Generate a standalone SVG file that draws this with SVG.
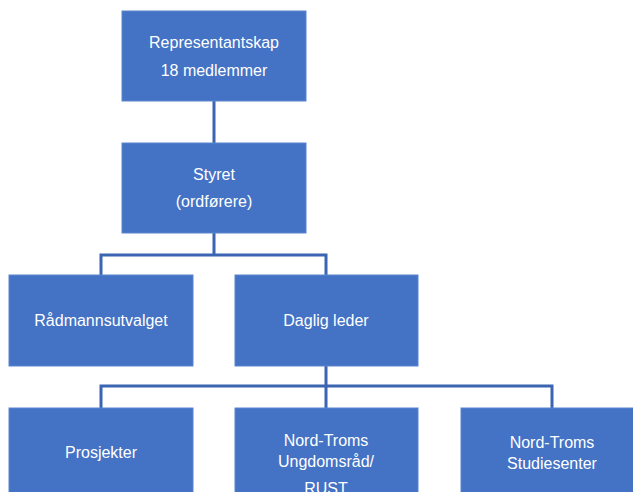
<svg xmlns="http://www.w3.org/2000/svg" width="633" height="492" viewBox="0 0 633 492">
<style>
.box{fill:#4472C4;stroke:#5B85CF;stroke-width:1}
.t{font-family:"Liberation Sans",Arial,sans-serif;font-size:16px;fill:#FFFFFF;text-anchor:middle}
.c{fill:none;stroke:#3B64B2;stroke-width:3}
</style>
<rect width="633" height="492" fill="#FFFFFF"/>
<g id="connectors">
<path class="c" d="M214,101 V143"/>
<path class="c" d="M214,233 V255 M101,275 V255 H326 V275"/>
<path class="c" d="M326,366 V386 M101,408 V386 H552 V408 M326,386 V408"/>
</g>
<g id="representantskap">
<rect class="box" x="122" y="11" width="184" height="90"/>
<text class="t" x="214" y="48">Representantskap</text>
<text class="t" x="214" y="76">18 medlemmer</text>
</g>
<g id="styret">
<rect class="box" x="122" y="143" width="184" height="90"/>
<text class="t" x="214" y="180">Styret</text>
<text class="t" x="214" y="207">(ordførere)</text>
</g>
<g id="radmannsutvalget">
<rect class="box" x="9" y="275" width="184" height="91"/>
<text class="t" x="101" y="326">Rådmannsutvalget</text>
</g>
<g id="daglig-leder">
<rect class="box" x="235" y="275" width="183" height="91"/>
<text class="t" x="326" y="326">Daglig leder</text>
</g>
<g id="prosjekter">
<rect class="box" x="9" y="408" width="184" height="90"/>
<text class="t" x="101" y="458">Prosjekter</text>
</g>
<g id="ungdomsrad">
<rect class="box" x="235" y="408" width="183" height="90"/>
<text class="t" x="326" y="446">Nord-Troms</text>
<text class="t" x="326" y="467">Ungdomsråd/</text>
<text class="t" x="326" y="494">RUST</text>
</g>
<g id="studiesenter">
<rect class="box" x="461" y="408" width="183" height="90"/>
<text class="t" x="552" y="448">Nord-Troms</text>
<text class="t" x="552" y="469">Studiesenter</text>
</g>
</svg>
